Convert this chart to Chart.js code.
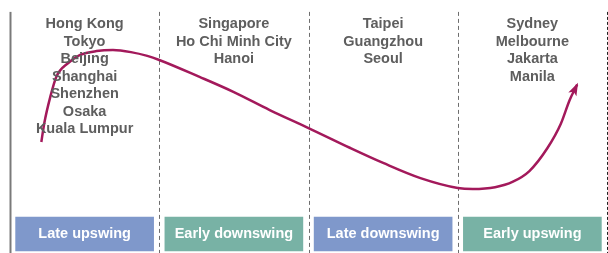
<!DOCTYPE html>
<html>
<head>
<meta charset="utf-8">
<script src="https://cdn.jsdelivr.net/npm/chart.js@4"></script>
<style>
    body { margin: 0; background: #fff; }
    canvas { display: block; }
</style>
</head>
<body>
<canvas id="cycleChart" width="608" height="253"></canvas>
<script>
// Phases of the cycle (one column each)
const phases = ['Late upswing', 'Early downswing', 'Late downswing', 'Early upswing'];
const phaseColors = ['#7f98cb', '#78b2a5', '#7f98cb', '#78b2a5'];
const phaseCenters = [0.5, 1.5, 2.5, 3.5];
const boxLow = [0.8, 0.8, 0.8, 0.8];
const boxHigh = [14.2, 14.2, 14.2, 14.2];

// Cities listed in each column
const cities = [
    ['Hong Kong', 'Tokyo', 'Beijing', 'Shanghai', 'Shenzhen', 'Osaka', 'Kuala Lumpur'],
    ['Singapore', 'Ho Chi Minh City', 'Hanoi'],
    ['Taipei', 'Guangzhou', 'Seoul'],
    ['Sydney', 'Melbourne', 'Jakarta', 'Manila']
];

// Column boundaries (phase units)
const boundaries = [0, 1, 2, 3, 4];

// The cycle curve: x = position in cycle, y = activity level
const curveX = [0.21, 0.23, 0.27, 0.31, 0.39, 0.47, 0.58, 0.69, 0.81, 0.92, 1.00, 1.27, 1.50, 1.74, 2.00,
                2.28, 2.50, 2.75, 3.00, 3.10, 3.25, 3.37, 3.48, 3.60, 3.69, 3.75, 3.80];
const curveY = [43.9, 51.4, 61.7, 69.6, 75.1, 78.3, 79.8, 80.2, 79.4, 77.9, 76.3, 69.6, 63.6, 56.5, 49.4,
                41.5, 35.6, 29.6, 25.7, 25.3, 26.0, 28.2, 32.4, 41.4, 51.0, 60.5, 66.6];

const curveColor = '#a3195b';

// vertical column separators
const separatorPlugin = {
    id: 'separators',
    beforeDatasetsDraw(chart) {
        const ctx = chart.ctx;
        const x = chart.scales.x, y = chart.scales.y;
        const top = y.getPixelForValue(95.3);
        const bottom = chart.chartArea.bottom;
        ctx.save();
        boundaries.forEach((b, i) => {
            const px = Math.round(x.getPixelForValue(b)) + 0.5;
            ctx.beginPath();
            if (i === 0) {
                ctx.setLineDash([]);
                ctx.strokeStyle = '#7a7a7a';
                ctx.lineWidth = 2;
            } else if (i === boundaries.length - 1) {
                ctx.setLineDash([3, 2]);
                ctx.strokeStyle = '#222';
                ctx.lineWidth = 1;
            } else {
                ctx.setLineDash([4, 3]);
                ctx.strokeStyle = '#6e6e6e';
                ctx.lineWidth = 1;
            }
            ctx.moveTo(px, top);
            ctx.lineTo(px, bottom);
            ctx.stroke();
        });
        ctx.restore();
    }
};

// city names and phase labels
const labelPlugin = {
    id: 'labels',
    afterDatasetsDraw(chart) {
        const ctx = chart.ctx;
        const x = chart.scales.x;
        ctx.save();
        ctx.font = 'bold 14.5px "Liberation Sans", Arial, sans-serif';
        ctx.textAlign = 'center';
        ctx.textBaseline = 'middle';
        ctx.fillStyle = '#5e5e5e';
        cities.forEach((list, i) => {
            const cx = x.getPixelForValue(phaseCenters[i]);
            list.forEach((name, j) => {
                ctx.fillText(name, cx, 24 + j * 17.5);
            });
        });
        ctx.fillStyle = '#ffffff';
        const bars = chart.getDatasetMeta(1).data;
        bars.forEach((bar, i) => {
            const mid = (bar.y + bar.base) / 2;
            ctx.fillText(phases[i], bar.x, mid);
        });
        ctx.restore();
    }
};

// arrowhead at the end of the curve
const arrowPlugin = {
    id: 'arrow',
    afterDatasetsDraw(chart) {
        const pts = chart.getDatasetMeta(0).data;
        if (pts.length < 2) return;
        const p1 = pts[pts.length - 2], p2 = pts[pts.length - 1];
        const ang = Math.atan2(p2.y - p1.y, p2.x - p1.x);
        const ctx = chart.ctx;
        const len = 11, half = 4.5;
        ctx.save();
        ctx.translate(p2.x, p2.y);
        ctx.rotate(ang);
        ctx.fillStyle = curveColor;
        ctx.beginPath();
        ctx.moveTo(2, 0);
        ctx.lineTo(-len, -half);
        ctx.lineTo(-len + 3, 0);
        ctx.lineTo(-len, half);
        ctx.closePath();
        ctx.fill();
        ctx.restore();
    }
};

new Chart(document.getElementById('cycleChart'), {
    data: {
        datasets: [{
            type: 'scatter',
            label: 'Cycle',
            data: curveX.map((v, i) => ({ x: v, y: curveY[i] })),
            showLine: true,
            borderColor: curveColor,
            borderWidth: 2.5,
            cubicInterpolationMode: 'monotone',
            pointRadius: 0,
            fill: false
        }, {
            type: 'bar',
            label: 'Phase',
            data: phaseCenters.map((c, i) => ({ x: c, y: [boxLow[i], boxHigh[i]] })),
            backgroundColor: phaseColors,
            borderWidth: 0,
            barThickness: 138
        }]
    },
    options: {
        responsive: false,
        animation: false,
        devicePixelRatio: 1,
        layout: { padding: 0 },
        plugins: {
            legend: { display: false },
            tooltip: { enabled: false }
        },
        scales: {
            x: {
                type: 'linear',
                display: false,
                offset: false,
                min: -10 / 149.25,
                max: 4 + 1 / 149.25
            },
            y: {
                type: 'linear',
                display: false,
                min: 0,
                max: 100
            }
        }
    },
    plugins: [separatorPlugin, labelPlugin, arrowPlugin]
});
</script>
</body>
</html>
